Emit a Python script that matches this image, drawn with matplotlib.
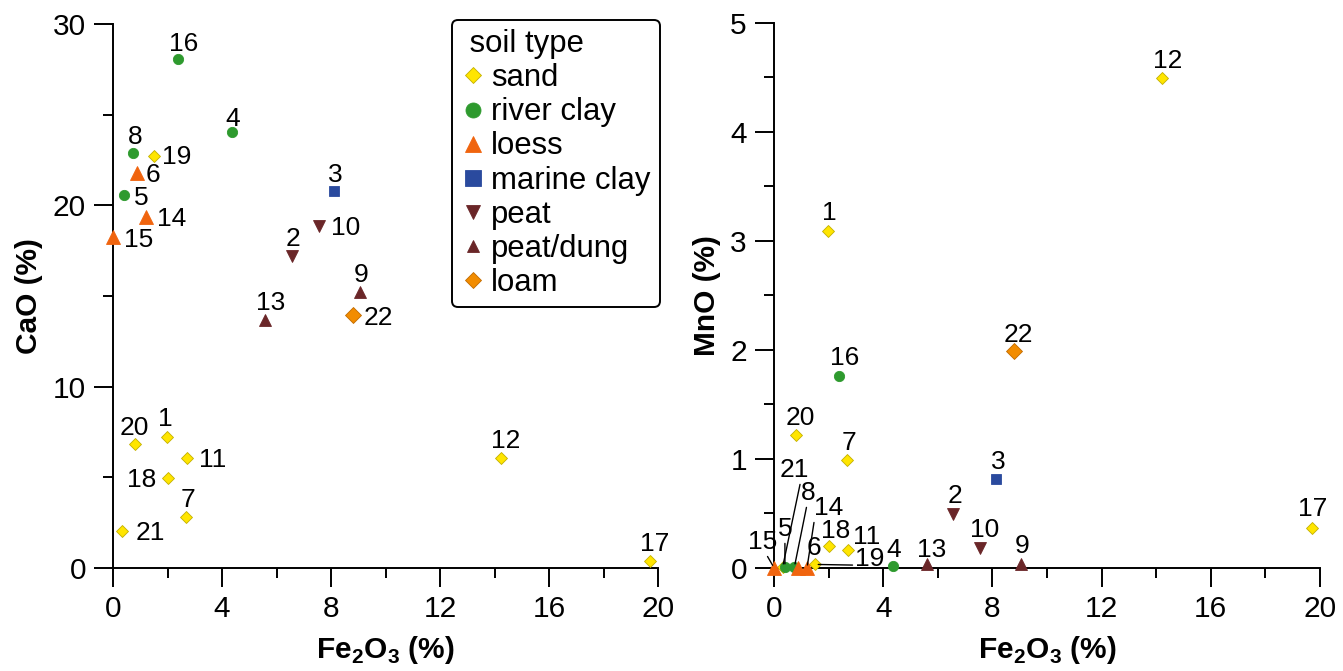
import matplotlib
matplotlib.use('Agg')
import matplotlib.pyplot as plt
from matplotlib.lines import Line2D
from matplotlib.ticker import MultipleLocator

plt.rcParams['font.family'] = 'Liberation Sans'
plt.rcParams['mathtext.fontset'] = 'custom'
plt.rcParams['mathtext.rm'] = 'Liberation Sans'
plt.rcParams['mathtext.bf'] = 'Liberation Sans:bold'

# samples 1..22
sample_id = list(range(1, 23))
soil = ['sand', 'peat', 'marine clay', 'river clay', 'river clay', 'loess', 'sand',
        'river clay', 'peat/dung', 'peat', 'sand', 'sand', 'peat/dung', 'loess',
        'loess', 'river clay', 'sand', 'sand', 'sand', 'sand', 'sand', 'loam']
fe2o3 = [1.99, 6.57, 8.12, 4.37, 0.40, 0.87, 2.68, 0.75, 9.06, 7.55, 2.70,
         14.23, 5.59, 1.21, 0.0, 2.39, 19.72, 2.03, 1.52, 0.81, 0.32, 8.80]
cao = [7.21, 17.2, 20.79, 24.07, 20.57, 21.77, 2.83, 22.87, 15.24, 18.88, 6.05,
       6.08, 13.7, 19.34, 18.27, 28.06, 0.37, 4.95, 22.72, 6.84, 2.06, 13.94]
mno = [3.09, 0.49, 0.81, 0.02, 0.01, 0.0, 0.99, 0.01, 0.03, 0.18, 0.16,
       4.49, 0.03, 0.0, 0.0, 1.76, 0.36, 0.20, 0.03, 1.22, 0.01, 1.99]
soil_types = ['sand', 'river clay', 'loess', 'marine clay', 'peat', 'peat/dung', 'loam']

# marker, size in plot, size in legend, face, edge
styles = {
    'sand': ('D', 6.1, 7.9, '#FFE500', '#C2B000'),
    'river clay': ('o', 7.4, 10.8, '#2E9A2E', '#2E9A2E'),
    'loess': ('^', 10.0, 11.3, '#F0640E', '#F0640E'),
    'marine clay': ('s', 7.9, 11.3, '#2A4A9E', '#2A4A9E'),
    'peat': ('v', 9.3, 9.6, '#6A2628', '#6A2628'),
    'peat/dung': ('^', 9.0, 8.9, '#6A2628', '#6A2628'),
    'loam': ('D', 7.9, 7.9, '#F28C00', '#C06A00'),
}

# label offsets in pixels (dx, dy to baseline, ha)
left_labels = {
    1: (-2, 11.6, 'center'), 2: (1, 10, 'center'), 3: (1.5, 9, 'center'),
    4: (1, 5.5, 'center'), 5: (10, -10, 'left'), 6: (9, -9, 'left'),
    7: (2, 9.7, 'center'), 8: (2, 9, 'center'), 9: (1, 9.5, 'center'),
    10: (12, -9, 'left'), 11: (12.6, -9, 'left'), 12: (4.6, 9.7, 'center'),
    13: (5, 9.5, 'center'), 14: (10.7, -9, 'left'), 15: (10.7, -10, 'left'),
    16: (5, 8.6, 'center'), 17: (4, 10, 'center'), 18: (-11.6, -9, 'right'),
    19: (8, -7.5, 'left'), 20: (-1, 9, 'center'), 21: (14.3, -9, 'left'),
    22: (10.7, -10, 'left'),
}
right_labels = {
    1: (1, 11, 'center'), 2: (2, 11, 'center'), 3: (3, 10, 'center'),
    4: (0, 9, 'center'), 5: (0, 31, 'center'), 6: (16, 13, 'center'),
    7: (2, 10, 'center'), 8: (14, 67, 'center'), 9: (1, 11, 'center'),
    10: (5, 11, 'center'), 11: (19, 6, 'center'), 12: (5, 10.5, 'center'),
    13: (5, 7, 'center'), 14: (22, 53, 'center'), 15: (-11, 19, 'center'),
    16: (5, 11, 'center'), 17: (0, 12, 'center'), 18: (6, 8, 'center'),
    19: (54.5, -1.7, 'center'), 20: (4, 10, 'center'), 21: (12, 90, 'center'),
    22: (4, 9, 'center'),
}
right_leaders = {5: (0.5, 0), 8: (0.4, 0), 14: (0.0, 0), 15: (0.6, 0),
                 19: (0.0, 0.25), 21: (0.7, 0)}


def setup_axis(ax, ymax, ymajor, yminor, ylabel):
    ax.set_xlim(0, 20)
    ax.set_ylim(0, ymax)
    ax.xaxis.set_major_locator(MultipleLocator(4))
    ax.xaxis.set_minor_locator(MultipleLocator(2))
    ax.yaxis.set_major_locator(MultipleLocator(ymajor))
    ax.yaxis.set_minor_locator(MultipleLocator(yminor))
    for s in ['top', 'right']:
        ax.spines[s].set_visible(False)
    for s in ['left', 'bottom']:
        ax.spines[s].set_linewidth(1.4)
    ax.tick_params(which='major', direction='out', length=13.5, width=1.4, labelsize=21.5, pad=6)
    ax.tick_params(which='minor', direction='out', length=7.2, width=1.4)
    ax.set_xlabel(r'Fe$_\mathbf{2}$O$_\mathbf{3}$ (%)', fontsize=21.5, fontweight='bold', labelpad=8)
    ax.set_ylabel(ylabel, fontsize=21.5, fontweight='bold', labelpad=7)


def draw_points(ax, yvals):
    for t in soil_types:
        mk, ms, _, fc, ec = styles[t]
        xs = [fe2o3[i] for i in range(len(soil)) if soil[i] == t]
        ys = [yvals[i] for i in range(len(soil)) if soil[i] == t]
        ax.plot(xs, ys, linestyle='none', marker=mk, markersize=ms, markerfacecolor=fc,
                markeredgecolor=ec, markeredgewidth=0.6, clip_on=False, zorder=3)


def label_points(ax, yvals, offsets, leaders):
    for i, sid in enumerate(sample_id):
        dx, dy, ha = offsets[sid]
        kw = {}
        if sid in leaders:
            kw['arrowprops'] = dict(arrowstyle='-', lw=1.0, color='black', shrinkA=0,
                                    shrinkB=2, relpos=leaders[sid])
        ax.annotate(str(sid), (fe2o3[i], yvals[i]), xytext=(dx, dy),
                    textcoords='offset pixels', ha=ha, va='baseline', fontsize=19,
                    annotation_clip=False, **kw)


fig = plt.figure(figsize=(13.43, 6.71), dpi=100)
ax1 = fig.add_axes([113 / 1343, 103 / 671, 545 / 1343, 544 / 671])
ax2 = fig.add_axes([774 / 1343, 103.3 / 671, 546 / 1343, 545 / 671])

setup_axis(ax1, 30, 10, 5, 'CaO (%)')
setup_axis(ax2, 5, 1, 0.5, 'MnO (%)')
draw_points(ax1, cao)
draw_points(ax2, mno)
label_points(ax1, cao, left_labels, {})
label_points(ax2, mno, right_labels, right_leaders)

handles = []
for t in soil_types:
    mk, _, ms, fc, ec = styles[t]
    handles.append(Line2D([], [], linestyle='none', marker=mk, markersize=ms,
                          markerfacecolor=fc, markeredgecolor=ec, markeredgewidth=0.6))
leg = ax1.legend(handles, soil_types, title=' soil type', loc='upper left',
                 bbox_to_anchor=(451.7 / 1343, 1 - 20 / 671), bbox_transform=fig.transFigure,
                 borderaxespad=0, fontsize=22.4, title_fontsize=22.4, alignment='left',
                 handlelength=0.8, handletextpad=0.16, borderpad=0.3, labelspacing=0.13,
                 frameon=True, fancybox=True, framealpha=1, edgecolor='black')
leg.get_frame().set_linewidth(1.4)

fig.savefig('out.png', dpi=100)
